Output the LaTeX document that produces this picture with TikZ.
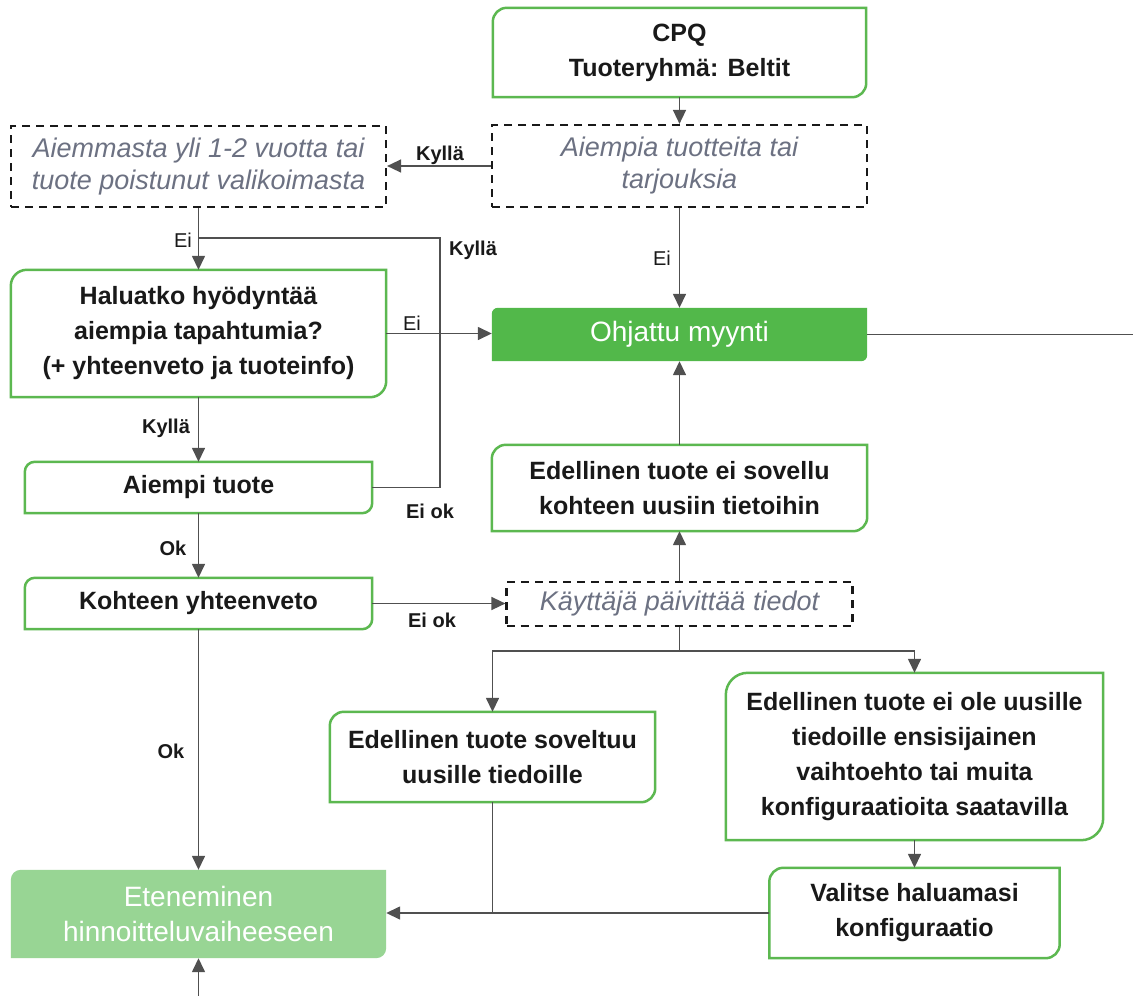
\documentclass[tikz,border=0pt]{standalone}
\usepackage{fontspec}
\setmainfont{Liberation Sans}
\usetikzlibrary{arrows.meta,backgrounds}
\definecolor{boxgreen}{RGB}{92,184,80}
\definecolor{darkfill}{RGB}{82,184,74}
\definecolor{lightfill}{RGB}{152,213,148}
\definecolor{wirecol}{RGB}{80,80,80}
\definecolor{noteText}{RGB}{108,113,130}
\definecolor{bodyText}{RGB}{25,25,25}

\tikzset{
  every node/.style={inner sep=0pt, align=center},
  sz/.style 2 args={minimum width=#1pt, minimum height=#2pt},
  txt/.style={font=\fontsize{25}{35}\selectfont\bfseries, text=bodyText},
  note/.style={font=\fontsize{27}{32}\selectfont\itshape, text=noteText},
  whitetxt/.style={font=\fontsize{28}{35}\selectfont, text=white},
  lbl/.style={font=\fontsize{20}{24}\selectfont\bfseries, text=bodyText},
  lblr/.style={font=\fontsize{20}{24}\selectfont, text=bodyText},
  dashbox/.style={draw=black!90, line width=2.2pt, dash pattern=on 8pt off 6pt},
  wire/.style={draw=wirecol, line width=1.5pt},
  arr/.style={wire, -{Triangle[length=14pt,width=13pt]}},
  outline/.style={draw=boxgreen, line width=2.5pt},
}

% box outline with rounded top-left and bottom-right corners
\newcommand\cutbox[3]{%
  \path[#3] (#1.south west) -- ([yshift=-#2]#1.north west)
    arc[start angle=180,end angle=90,radius=#2] -- (#1.north east)
    -- ([yshift=#2]#1.south east)
    arc[start angle=0,end angle=-90,radius=#2] -- cycle;}

\begin{document}
\begin{tikzpicture}[x=1pt,y=1pt]
\useasboundingbox (0,0) rectangle (1133,-996);

% boxes
\node[txt, sz={373}{89}] (cpq) at (679.5,-52.5) {CPQ\\Tuoteryhmä: Beltit};
\node[note, dashbox, sz={375}{82}] (prev) at (679.5,-166) {Aiempia tuotteita tai\\tarjouksia};
\node[note, dashbox, sz={375}{81}] (old) at (198.5,-166.5) {Aiemmasta yli 1-2 vuotta tai\\tuote poistunut valikoimasta};
\node[txt, sz={375}{127}] (want) at (198.5,-333.5) {Haluatko hyödyntää\\aiempia tapahtumia?\\(+ yhteenveto ja tuoteinfo)};
\node[whitetxt, sz={375}{53}] (ohj) at (679.5,-334.5) {Ohjattu myynti};
\node[txt, sz={347}{51}] (aiempi) at (198.5,-487.5) {Aiempi tuote};
\node[txt, sz={347}{51}] (kohde) at (198.5,-603.5) {Kohteen yhteenveto};
\node[txt, sz={375}{86}] (nosuit) at (679.5,-488) {Edellinen tuote ei sovellu\\kohteen uusiin tietoihin};
\node[note, dashbox, sz={346}{44}] (user) at (679.5,-604) {Käyttäjä päivittää tiedot};
\node[txt, sz={325}{90}] (suits) at (492.5,-757) {Edellinen tuote soveltuu\\uusille tiedoille};
\node[txt, sz={377}{167}] (noprim) at (914.5,-756.5) {Edellinen tuote ei ole uusille\\tiedoille ensisijainen\\vaihtoehto tai muita\\konfiguraatioita saatavilla};
\node[txt, sz={290}{90}] (choose) at (914.5,-913) {Valitse haluamasi\\konfiguraatio};
\node[whitetxt, sz={375}{88}] (eten) at (198.5,-914) {Eteneminen\\hinnoitteluvaiheeseen};

\begin{pgfonlayer}{background}
  \fill[white] (0,0) rectangle (1133,-996);
  \cutbox{cpq}{14pt}{outline}
  \cutbox{want}{16pt}{outline}
  \cutbox{aiempi}{10pt}{outline}
  \cutbox{kohde}{10pt}{outline}
  \cutbox{nosuit}{14pt}{outline}
  \cutbox{suits}{14pt}{outline}
  \cutbox{noprim}{22pt}{outline}
  \cutbox{choose}{14pt}{outline}
  \cutbox{ohj}{6pt}{fill=darkfill}
  \cutbox{eten}{10pt}{fill=lightfill}
\end{pgfonlayer}

% free ends and bends
\coordinate (kb) at (440,-238);
\coordinate (split) at (679.5,-651);
\coordinate (ohjout) at (1133,-334.5);
\coordinate (btm) at (200,-996);

% connectors
\draw[arr] (cpq.south) -- (prev.north);
\draw[arr] (prev.west) -- (prev.west -| old.east);
\draw[arr] (prev.south) -- (ohj.north);
\draw[arr] (old.south) -- (want.north);
\draw[wire] (aiempi.east) -| (kb) -- (old.south |- kb);
\draw[arr] (want.east) -- (want.east -| ohj.west);
\draw[wire] (ohj.east) -- (ohj.east -| ohjout);
\draw[arr] (want.south) -- (aiempi.north);
\draw[arr] (aiempi.south) -- (kohde.north);
\draw[arr] (kohde.east) -- (kohde.east -| user.west);
\draw[arr] (user.north) -- (nosuit.south);
\draw[arr] (nosuit.north) -- (ohj.south);
\draw[wire] (user.south) -- (split);
\draw[arr] (split) -| (suits.north);
\draw[arr] (split) -| (noprim.north);
\draw[arr] (noprim.south) -- (choose.north);
\draw[arr] (choose.west) -- (choose.west -| eten.east);
\draw[wire] (suits.south) -- (suits.south |- choose.west);
\draw[arr] (kohde.south) -- (eten.north);
\draw[arr] (eten.south |- btm) -- (eten.south);

% connector labels
\node[lbl] (l1) at (440,-155) {Kyllä};
\node[lblr] (l2) at (662,-258) {Ei};
\node[lblr] (l3) at (183,-240) {Ei};
\node[lbl] (l4) at (473,-250) {Kyllä};
\node[lblr] (l5) at (412,-323) {Ei};
\node[lbl] (l6) at (166,-428) {Kyllä};
\node[lbl] (l7) at (430,-511) {Ei ok};
\node[lbl] (l8) at (173,-548) {Ok};
\node[lbl] (l9) at (432,-620) {Ei ok};
\node[lbl] (l10) at (171,-751) {Ok};
\end{tikzpicture}
\end{document}
